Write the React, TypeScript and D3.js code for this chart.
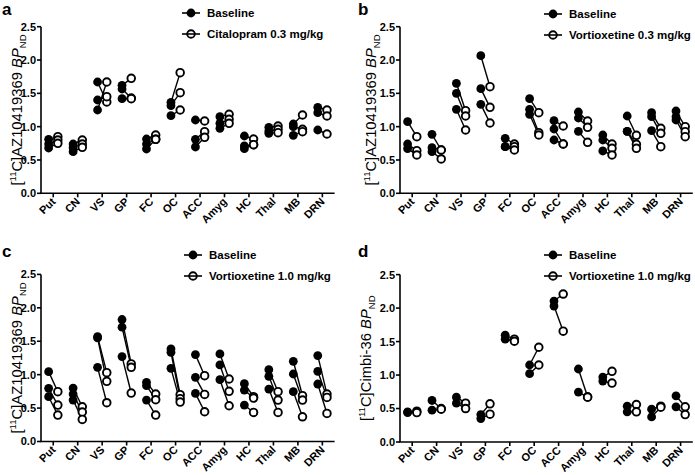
import React from "react";
import * as d3 from "d3";

const categories = ["Put", "CN", "VS", "GP", "FC", "OC", "ACC", "Amyg", "HC", "Thal", "MB", "DRN"];
const yTicks = [0, 0.5, 1.0, 1.5, 2.0, 2.5];

// Panel a: Baseline vs Citalopram 0.3 mg/kg (paired by index)
const baselineA = [
  [0.81, 0.74, 0.68], [0.74, 0.685, 0.625], [1.67, 1.40, 1.25], [1.62, 1.565, 1.42],
  [0.815, 0.74, 0.665], [1.365, 1.315, 1.165], [1.10, 0.81, 0.695], [1.15, 1.05, 0.975],
  [0.86, 0.71, 0.67], [0.99, 0.935, 0.90], [1.04, 1.0, 0.87], [1.29, 1.21, 0.95],
];
const treatedA = [
  [0.85, 0.80, 0.75], [0.80, 0.74, 0.69], [1.37, 1.45, 1.67], [1.725, 1.43, 1.42],
  [0.875, 0.81, 0.81], [1.81, 1.51, 1.25], [1.085, 0.925, 0.84], [1.185, 1.11, 1.05],
  [0.815, 0.73, 0.73], [1.01, 0.96, 0.91], [1.175, 0.96, 0.925], [1.25, 1.16, 0.89],
];

// Panel b: Baseline vs Vortioxetine 0.3 mg/kg
const baselineB = [
  [1.075, 0.74, 0.67], [0.885, 0.685, 0.625], [1.65, 1.50, 1.26], [2.065, 1.57, 1.335],
  [0.825, 0.70, 0.70], [1.42, 1.26, 1.185], [1.09, 0.965, 0.80], [1.22, 1.13, 0.93],
  [0.875, 0.80, 0.635], [1.16, 0.93, 0.93], [1.21, 1.15, 0.94], [1.235, 1.15, 1.10],
];
const treatedB = [
  [0.85, 0.64, 0.575], [0.65, 0.65, 0.515], [1.24, 1.16, 0.95], [1.60, 1.29, 1.055],
  [0.74, 0.70, 0.65], [1.21, 0.91, 0.875], [1.01, 0.74, 0.74], [1.085, 0.99, 0.765],
  [0.74, 0.675, 0.575], [0.87, 0.735, 0.675], [0.975, 0.90, 0.70], [1.0, 0.925, 0.85],
];

// Panel c: Baseline vs Vortioxetine 1.0 mg/kg
const baselineC = [
  [1.045, 0.795, 0.67], [0.80, 0.71, 0.62], [1.57, 1.55, 1.11], [1.825, 1.71, 1.27],
  [0.885, 0.835, 0.62], [1.385, 1.335, 1.095], [1.30, 0.96, 0.72], [1.31, 1.145, 0.925],
  [0.865, 0.77, 0.545], [1.075, 0.975, 0.785], [1.20, 1.01, 0.745], [1.285, 1.05, 0.86],
];
const treatedC = [
  [0.745, 0.545, 0.395], [0.52, 0.44, 0.33], [1.03, 0.90, 0.58], [1.16, 1.11, 0.725],
  [0.71, 0.625, 0.395], [0.70, 0.64, 0.59], [0.985, 0.705, 0.445], [0.935, 0.75, 0.535],
  [0.67, 0.65, 0.435], [0.745, 0.62, 0.435], [0.685, 0.62, 0.37], [0.71, 0.66, 0.42],
];

// Panel d: [11C]Cimbi-36, Baseline vs Vortioxetine 1.0 mg/kg
const baselineD = [
  [0.45, 0.44], [0.62, 0.475], [0.67, 0.58], [0.41, 0.35],
  [1.595, 1.535], [1.15, 1.02], [2.105, 2.03], [1.09, 0.745],
  [0.97, 0.91], [0.535, 0.45], [0.49, 0.375], [0.69, 0.525],
];
const treatedD = [
  [0.46, 0.44], [0.50, 0.49], [0.58, 0.50], [0.57, 0.415],
  [1.535, 1.505], [1.415, 1.15], [2.21, 1.655], [0.675, 0.67],
  [1.055, 0.88], [0.56, 0.45], [0.535, 0.52], [0.525, 0.41],
];

const FONT = "Arial, 'Liberation Sans', Helvetica, sans-serif";

type PanelProps = {
  letter: string;
  tracer: string;
  legend2: string;
  base: number[][];
  treat: number[][];
  x0: number;
  x1: number;
  yTop: number;
  yBot: number;
  legX: number;
  legY: number;
  letterX: number;
  letterY: number;
  titleX: number;
};

function Panel(p: PanelProps) {
  const x = d3.scaleBand<string>().domain(categories).range([p.x0, p.x1]);
  const y = d3.scaleLinear().domain([0, 2.5]).range([p.yBot, p.yTop]);
  const off = 4.6;
  const r = 3.8;
  const midY = (p.yTop + p.yBot) / 2;
  return (
    <g>
      <text x={p.letterX} y={p.letterY} fontSize={17} fontWeight="bold" fontFamily={FONT}>{p.letter}</text>
      {/* y-axis title */}
      <g transform={`translate(${p.titleX},${midY})`}>
        <text transform="rotate(-90)" textAnchor="middle" fontSize={14.8} fontFamily={FONT}>
          [<tspan fontSize={9.5} dy={-6}>11</tspan>
          <tspan dy={6}>C]{p.tracer} </tspan>
          <tspan fontStyle="italic">BP</tspan>
          <tspan fontSize={9.5} dy={4}>ND</tspan>
        </text>
      </g>
      {/* y axis */}
      <line x1={p.x0} x2={p.x0} y1={y(0)} y2={y(2.5)} stroke="#000" strokeWidth={1.6} />
      {yTicks.map((t) => (
        <g key={t}>
          <line x1={p.x0 - 4} x2={p.x0} y1={y(t)} y2={y(t)} stroke="#000" strokeWidth={1.6} />
          <text x={p.x0 - 5} y={y(t)} dy="0.36em" textAnchor="end" fontSize={11} fontWeight="bold" fontFamily={FONT}>
            {t.toFixed(1)}
          </text>
        </g>
      ))}
      {/* x axis */}
      <line x1={p.x0 - 0.8} x2={p.x1} y1={y(0)} y2={y(0)} stroke="#000" strokeWidth={1.6} />
      {categories.map((c) => {
        const cx = (x(c) as number) + x.bandwidth() / 2;
        return (
          <g key={c}>
            <line x1={cx} x2={cx} y1={y(0)} y2={y(0) + 4} stroke="#000" strokeWidth={1.6} />
            <g transform={`translate(${cx + 3},${y(0) + 9})`}>
              <text transform="rotate(-45)" textAnchor="end" fontSize={11} fontWeight="bold" fontFamily={FONT}>
                {c}
              </text>
            </g>
          </g>
        );
      })}
      {/* data */}
      {categories.map((c, i) => {
        const cx = (x(c) as number) + x.bandwidth() / 2;
        const b = p.base[i];
        const t = p.treat[i];
        return (
          <g key={c}>
            {b.map((v, j) => (
              <line key={"l" + j} x1={cx - off} y1={y(v)} x2={cx + off} y2={y(t[j])} stroke="#000" strokeWidth={1.4} />
            ))}
            {b.map((v, j) => (
              <circle key={"b" + j} cx={cx - off} cy={y(v)} r={r + 0.6} fill="#000" />
            ))}
            {t.map((v, j) => (
              <circle key={"t" + j} cx={cx + off} cy={y(v)} r={r} fill="#fff" stroke="#000" strokeWidth={1.9} />
            ))}
          </g>
        );
      })}
      {/* legend */}
      <g>
        <line x1={p.legX - 9} x2={p.legX + 9} y1={p.legY} y2={p.legY} stroke="#000" strokeWidth={1.6} />
        <circle cx={p.legX} cy={p.legY} r={r + 0.6} fill="#000" />
        <text x={p.legX + 16} y={p.legY} dy="0.36em" fontSize={11.5} fontWeight="bold" fontFamily={FONT}>Baseline</text>
        <circle cx={p.legX} cy={p.legY + 21} r={r} fill="none" stroke="#000" strokeWidth={1.9} />
        <line x1={p.legX - 9} x2={p.legX + 9} y1={p.legY + 21} y2={p.legY + 21} stroke="#000" strokeWidth={1.6} />
        <text x={p.legX + 16} y={p.legY + 21} dy="0.36em" fontSize={11.5} fontWeight="bold" fontFamily={FONT}>{p.legend2}</text>
      </g>
    </g>
  );
}

export default function App() {
  return (
    <svg
      width={695}
      height={475}
      style={{ position: "absolute", left: 0, top: 0, background: "#fff", display: "block" }}
    >
      <rect width={695} height={475} fill="#fff" />
      <Panel letter="a" tracer="AZ10419369" legend2="Citalopram 0.3 mg/kg" base={baselineA} treat={treatedA}
        x0={41} x1={334.6} yTop={26.7} yBot={193.3} legX={191} legY={13} letterX={2} letterY={15} titleX={21.5} />
      <Panel letter="b" tracer="AZ10419369" legend2="Vortioxetine 0.3 mg/kg" base={baselineB} treat={treatedB}
        x0={400} x1={692.8} yTop={26.7} yBot={193.3} legX={553} legY={14} letterX={358} letterY={15} titleX={376} />
      <Panel letter="c" tracer="AZ10419369" legend2="Vortioxetine 1.0 mg/kg" base={baselineC} treat={treatedC}
        x0={41} x1={334.6} yTop={274.4} yBot={441.5} legX={193} legY={255} letterX={2} letterY={257} titleX={21.5} />
      <Panel letter="d" tracer="Cimbi-36" legend2="Vortioxetine 1.0 mg/kg" base={baselineD} treat={treatedD}
        x0={400} x1={692.8} yTop={274.6} yBot={442} legX={553} legY={255} letterX={358} letterY={257} titleX={371} />
    </svg>
  );
}
